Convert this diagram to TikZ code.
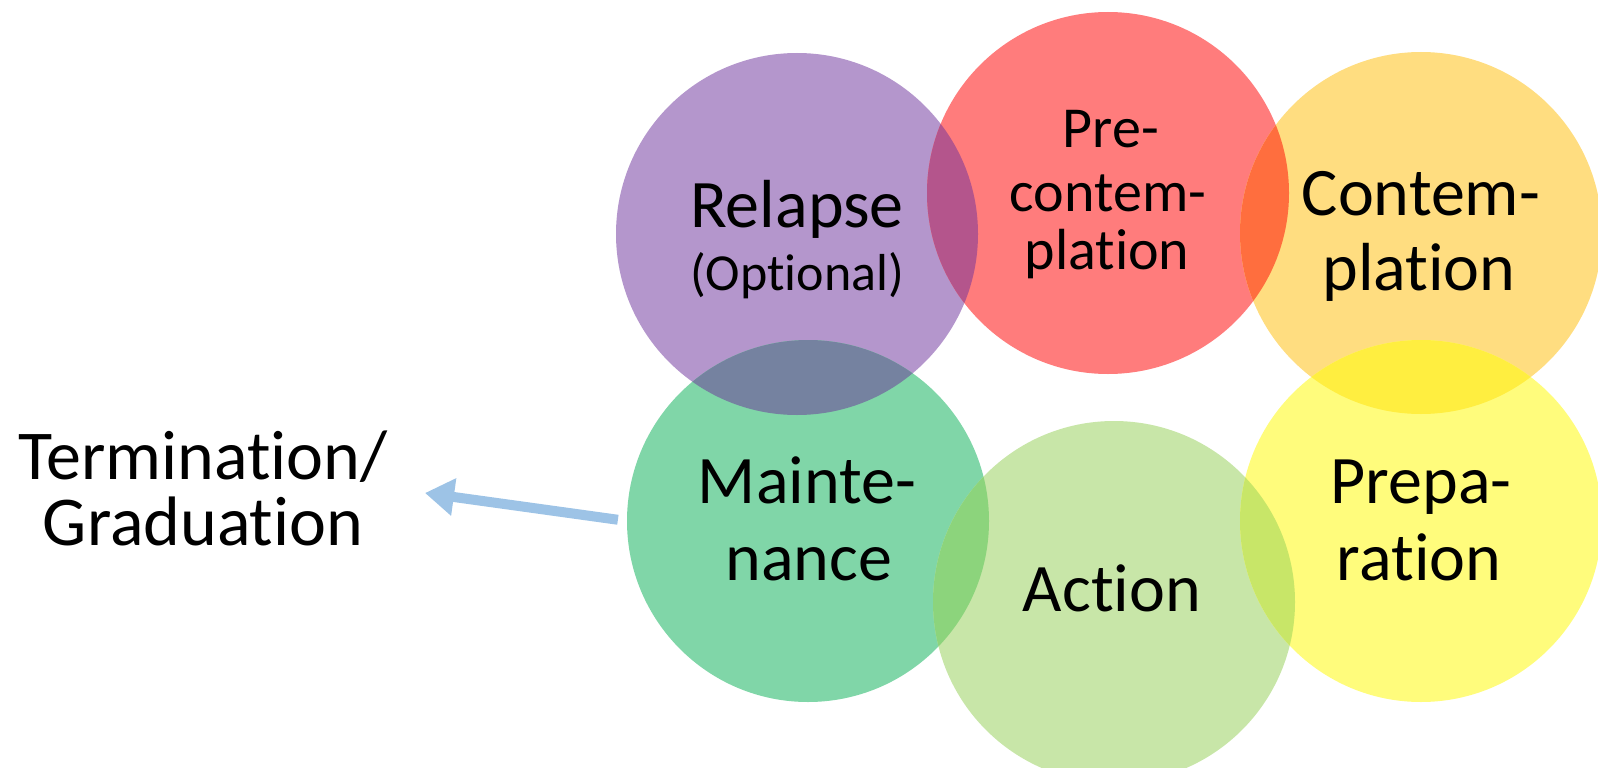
\documentclass[tikz,border=0pt]{standalone}
\usepackage{fontspec}
\setmainfont{Carlito}[Ligatures={NoCommon,NoRare,NoContextual}]
\usetikzlibrary{arrows.meta}
\newcommand{\tiX}{t\kern0pt i}
\definecolor{cRel}{RGB}{180,150,204}
\definecolor{cPre}{RGB}{255,124,124}
\definecolor{cCon}{RGB}{255,221,128}
\definecolor{cMai}{RGB}{128,214,168}
\definecolor{cAct}{RGB}{200,230,168}
\definecolor{cPrp}{RGB}{255,252,124}
\definecolor{oRelPre}{RGB}{180,85,140}
\definecolor{oPreCon}{RGB}{255,110,62}
\definecolor{oRelMai}{RGB}{117,130,160}
\definecolor{oConPrp}{RGB}{255,238,64}
\definecolor{oMaiAct}{RGB}{140,212,124}
\definecolor{oActPrp}{RGB}{200,230,104}
\definecolor{arrblue}{RGB}{157,195,230}
\tikzset{
  stage/.style={circle, minimum size=362pt, inner sep=0pt, draw=none},
  lbl/.style={anchor=base, inner sep=0pt, text=black, font=\fontsize{68}{77}\selectfont},
  lblpre/.style={lbl, font=\fontsize{58}{66}\selectfont},
  lblopt/.style={lbl, font=\fontsize{52}{60}\selectfont},
  lblterm/.style={lbl, font=\fontsize{70}{78}\selectfont},
  arr/.style={draw=arrblue, line width=10pt, -{Triangle[length=29pt,width=36pt]}}
}
\begin{document}
\begin{tikzpicture}[x=1pt,y=-1pt]
\useasboundingbox (0,0) rectangle (1598,768);
\clip (0,0) rectangle (1598,768);
% circles
\node[stage, fill=cRel] (rel) at (797,234) {};
\node[stage, fill=cPre] (pre) at (1108,193) {};
\node[stage, fill=cCon] (con) at (1421,233) {};
\node[stage, fill=cMai] (mai) at (808,521) {};
\node[stage, fill=cAct] (act) at (1114,602) {};
\node[stage, fill=cPrp] (prp) at (1421,521) {};
% overlaps
\begin{scope}\clip (797,234) circle (181); \fill[oRelPre] (1108,193) circle (181);\end{scope}
\begin{scope}\clip (1108,193) circle (181); \fill[oPreCon] (1421,233) circle (181);\end{scope}
\begin{scope}\clip (797,234) circle (181); \fill[oRelMai] (808,521) circle (181);\end{scope}
\begin{scope}\clip (1421,233) circle (181); \fill[oConPrp] (1421,521) circle (181);\end{scope}
\begin{scope}\clip (808,521) circle (181); \fill[oMaiAct] (1114,602) circle (181);\end{scope}
\begin{scope}\clip (1114,602) circle (181); \fill[oActPrp] (1421,521) circle (181);\end{scope}
% labels
\node[lbl] (t-rel1) at (797,227) {Relapse};
\node[lblopt] (t-rel2) at (797,290) {(Op\tiX onal)};
\node[lblpre] (t-pre1) at (1111,147) {Pre-};
\node[lblpre] (t-pre2) at (1108,211) {contem-};
\node[lblpre] (t-pre3) at (1107,269) {pla\tiX on};
\node[lbl] (t-con1) at (1421,215) {Contem-};
\node[lbl] (t-con2) at (1419,290) {pla\tiX on};
\node[lbl] (t-mai1) at (807,503) {Mainte-};
\node[lbl] (t-mai2) at (809,580) {nance};
\node[lbl] (t-act) at (1112,611) {Ac\tiX on};
\node[lbl] (t-prp1) at (1421,503) {Prepa-};
\node[lbl] (t-prp2) at (1419,580) {ra\tiX on};
\node[lblterm] (t-term1) at (203,479) {Termina\tiX on/};
\node[lblterm] (t-term2) at (203,545) {Gradua\tiX on};
% arrow
\coordinate (tip) at (425,493);
\draw[arr, shorten <=9pt] (mai.west) -- (tip);
\end{tikzpicture}
\end{document}
